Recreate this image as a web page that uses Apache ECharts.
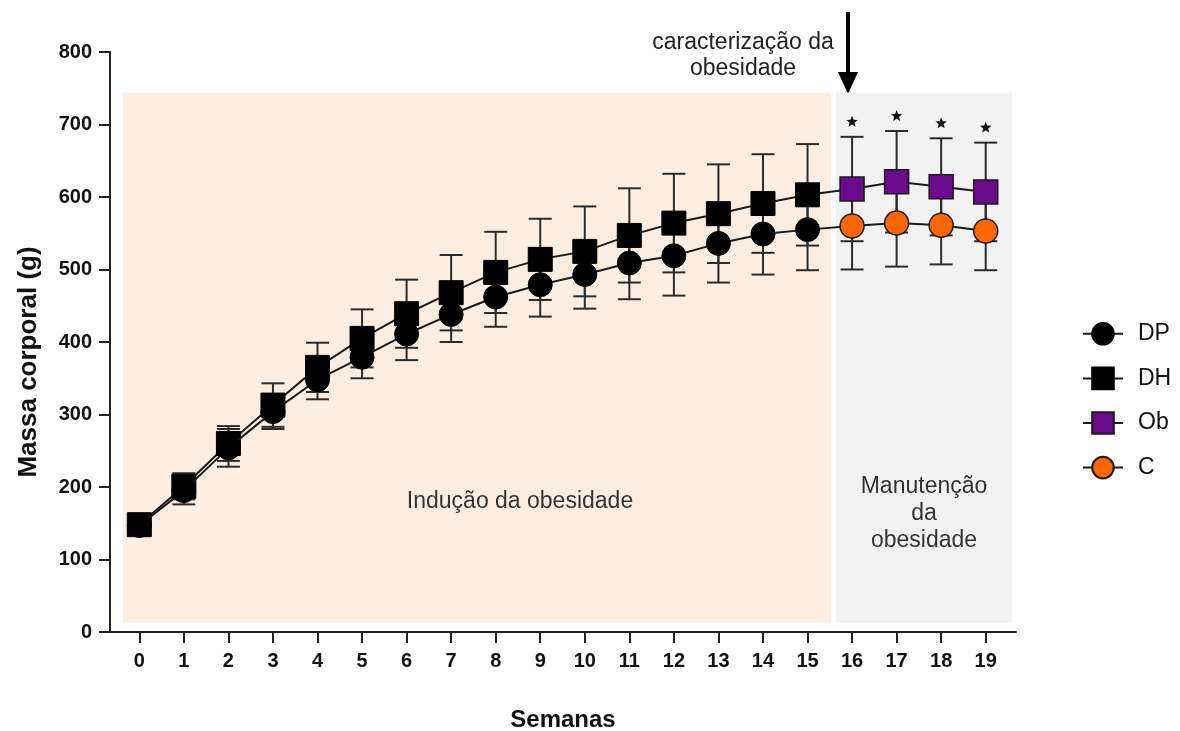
<!DOCTYPE html>
<html>
<head>
<meta charset="utf-8">
<title>Massa corporal</title>
<script src="https://cdn.jsdelivr.net/npm/echarts@6/dist/echarts.min.js"></script>
<style>
  html, body { margin: 0; padding: 0; background: #ffffff; }
  #chart { width: 1180px; height: 731px; }
</style>
</head>
<body>
<div id="chart"></div>
<script>
// Weeks of the protocol
const weeks = [0, 1, 2, 3, 4, 5, 6, 7, 8, 9, 10, 11, 12, 13, 14, 15, 16, 17, 18, 19];
const inductionWeeks = [0, 1, 2, 3, 4, 5, 6, 7, 8, 9, 10, 11, 12, 13, 14, 15];
const maintenanceWeeks = [16, 17, 18, 19];

// Induction phase (weeks 0-15): mean body mass (g) and SD
const dpMean = [147, 195, 254, 304, 348, 379, 411, 438, 462, 479, 493, 509, 519, 536, 549, 555];
const dpSd   = [6, 19, 26, 24, 27, 29, 36, 38, 41, 44, 47, 50, 55, 54, 56, 56];
const dhMean = [148, 201, 260, 313, 365, 405, 439, 468, 496, 514, 525, 547, 564, 577, 591, 603];
const dhSd   = [6, 18, 24, 30, 34, 40, 47, 52, 56, 56, 62, 65, 68, 68, 68, 70];

// Maintenance phase (weeks 16-19)
const obMean = [611, 621, 614, 607];
const obSd   = [72, 70, 67, 68];
const cMean  = [560, 564, 561, 553];
const cSd    = [60, 60, 54, 54];

// Significance flags for Ob vs C
const obSignificant = [true, true, true, true];

// Shaded phases: [week from, week to, mass from, mass to]
const phaseInduction   = [-0.37, 15.53, 13, 744];
const phaseMaintenance = [15.64, 19.59, 13, 744];

const FONT = '"Liberation Sans", Arial, Helvetica, sans-serif';
const INK = '#1a1a1a';

function pairs(xs, ys) { return xs.map((x, i) => [x, ys[i]]); }

function bandSeries() {
  const colors = ['#FDEEE1', '#F2F2F2'];
  return {
    type: 'custom', name: 'phases', silent: true, z: 0,
    data: [phaseInduction, phaseMaintenance],
    renderItem(params, api) {
      const p0 = api.coord([api.value(0), api.value(3)]);
      const p1 = api.coord([api.value(1), api.value(2)]);
      return {
        type: 'rect',
        shape: { x: p0[0], y: p0[1], width: p1[0] - p0[0], height: p1[1] - p0[1] },
        style: { fill: colors[params.dataIndex] }
      };
    }
  };
}

function starPoints(cx, cy, ro, ri) {
  const pts = [];
  for (let k = 0; k < 10; k++) {
    const r = k % 2 === 0 ? ro : ri;
    const a = -Math.PI / 2 + k * Math.PI / 5;
    pts.push([cx + r * Math.cos(a), cy + r * Math.sin(a)]);
  }
  return pts;
}

function errorSeries(name, xs, means, sds, flags) {
  return {
    type: 'custom', name: name, silent: true, z: 3,
    data: xs.map((x, i) => [x, means[i], sds[i], flags && flags[i] ? 1 : 0]),
    renderItem(params, api) {
      const x = api.value(0), m = api.value(1), s = api.value(2);
      const top = api.coord([x, m + s]);
      const bot = api.coord([x, m - s]);
      const hw = 11.5;
      const st = { stroke: '#2b2b2b', lineWidth: 2 };
      const children = [
        { type: 'line', shape: { x1: top[0], y1: top[1], x2: bot[0], y2: bot[1] }, style: st },
        { type: 'line', shape: { x1: top[0] - hw, y1: top[1], x2: top[0] + hw, y2: top[1] }, style: st },
        { type: 'line', shape: { x1: bot[0] - hw, y1: bot[1], x2: bot[0] + hw, y2: bot[1] }, style: st }
      ];
      if (api.value(3) === 1) {
        children.push({
          type: 'polygon',
          shape: { points: starPoints(top[0], top[1] - 15, 6, 2.6) },
          style: { fill: '#111' }
        });
      }
      return { type: 'group', children };
    }
  };
}

const chart = echarts.init(document.getElementById('chart'), null, { renderer: 'canvas' });

const option = {
  animation: false,
  backgroundColor: '#ffffff',
  textStyle: { fontFamily: FONT },
  grid: { left: 110, right: 164, top: 52, bottom: 99, containLabel: false, outerBoundsMode: 'none' },
  legend: {
    orient: 'vertical', left: 1077, top: 317,
    itemWidth: 40, itemHeight: 27, itemGap: 21,
    selectedMode: false,
    data: ['DP', 'DH', 'Ob', 'C'],
    textStyle: { fontFamily: FONT, fontSize: 23, color: '#111', padding: [0, 0, 0, 10] }
  },
  xAxis: {
    type: 'value', min: -0.658, max: 19.68,
    name: 'Semanas', nameLocation: 'middle', nameGap: 76,
    nameTextStyle: { fontFamily: FONT, fontSize: 24, fontWeight: 'bold', color: '#111' },
    axisLine: { show: true, onZero: false, lineStyle: { color: '#222', width: 2 } },
    axisTick: { show: true, customValues: weeks, length: 11, lineStyle: { color: '#222', width: 2 } },
    axisLabel: { customValues: weeks, fontFamily: FONT, fontSize: 20, fontWeight: 'bold', color: '#111', margin: 19 },
    splitLine: { show: false }
  },
  yAxis: {
    type: 'value', min: 0, max: 800, interval: 100,
    axisLine: { show: true, onZero: false, lineStyle: { color: '#222', width: 2 } },
    axisTick: { show: true, length: 11, lineStyle: { color: '#222', width: 2 } },
    axisLabel: { fontFamily: FONT, fontSize: 20, fontWeight: 'bold', color: '#111', margin: 18 },
    splitLine: { show: false }
  },
  graphic: [
    {
      type: 'text', x: 29, y: 362, rotation: Math.PI / 2,
      style: { text: 'Massa corporal (g)', fontFamily: FONT, fontSize: 26, fontWeight: 'bold',
               fill: '#111', align: 'center', verticalAlign: 'middle' }
    },
    {
      type: 'text', x: 743, y: 43,
      style: { text: 'caracterização da', fontFamily: FONT, fontSize: 23, fill: '#222',
               align: 'center', verticalAlign: 'middle' }
    },
    {
      type: 'text', x: 743, y: 69,
      style: { text: 'obesidade', fontFamily: FONT, fontSize: 23, fill: '#222',
               align: 'center', verticalAlign: 'middle' }
    },
    {
      type: 'line', shape: { x1: 848, y1: 12, x2: 848, y2: 76 },
      style: { stroke: '#000', lineWidth: 4 }
    },
    {
      type: 'polygon', shape: { points: [[838, 72], [858, 72], [848, 94]] },
      style: { fill: '#000' }
    },
    {
      type: 'text', x: 520, y: 502, z: 10,
      style: { text: 'Indução da obesidade', fontFamily: FONT, fontSize: 23, fill: '#333',
               align: 'center', verticalAlign: 'middle' }
    },
    {
      type: 'text', x: 924, y: 514, z: 10,
      style: { text: 'Manutenção\nda\nobesidade', fontFamily: FONT, fontSize: 23, lineHeight: 27,
               fill: '#333', align: 'center', verticalAlign: 'middle' }
    }
  ],
  series: [
    bandSeries(),
    errorSeries('DP-sd', inductionWeeks, dpMean, dpSd),
    errorSeries('DH-sd', inductionWeeks, dhMean, dhSd),
    errorSeries('C-sd', maintenanceWeeks, cMean, cSd),
    errorSeries('Ob-sd', maintenanceWeeks, obMean, obSd, obSignificant),
    {
      type: 'line', name: 'DH', z: 4,
      data: pairs(inductionWeeks, dhMean),
      symbol: 'rect', symbolSize: 24,
      itemStyle: { color: '#000', borderColor: '#000', borderWidth: 1 },
      lineStyle: { color: INK, width: 2 }
    },
    {
      type: 'line', name: 'Ob', z: 4,
      data: [{ value: [inductionWeeks[inductionWeeks.length - 1], dhMean[dhMean.length - 1]], symbol: 'none' }]
        .concat(pairs(maintenanceWeeks, obMean)),
      symbol: 'rect', symbolSize: 24,
      itemStyle: { color: '#6C0A8E', borderColor: INK, borderWidth: 1.5 },
      lineStyle: { color: INK, width: 2 }
    },
    {
      type: 'line', name: 'DP', z: 5,
      data: pairs(inductionWeeks, dpMean),
      symbol: 'circle', symbolSize: 24,
      itemStyle: { color: '#000', borderColor: '#000', borderWidth: 1 },
      lineStyle: { color: INK, width: 2 }
    },
    {
      type: 'line', name: 'C', z: 5,
      data: [{ value: [inductionWeeks[inductionWeeks.length - 1], dpMean[dpMean.length - 1]], symbol: 'none' }]
        .concat(pairs(maintenanceWeeks, cMean)),
      symbol: 'circle', symbolSize: 24,
      itemStyle: { color: '#FF6600', borderColor: INK, borderWidth: 1.5 },
      lineStyle: { color: INK, width: 2 }
    }
  ]
};

chart.setOption(option);
</script>
</body>
</html>
